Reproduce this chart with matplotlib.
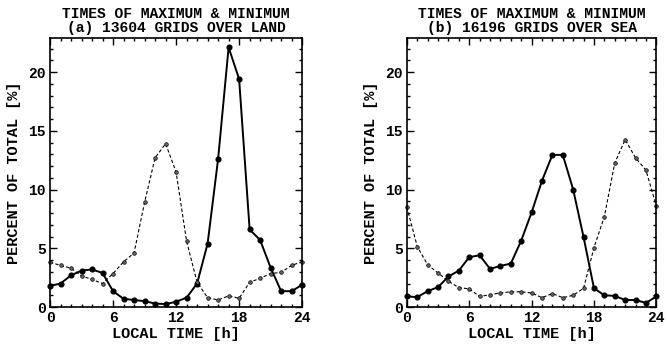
import numpy as np
import matplotlib
matplotlib.use("Agg")
import matplotlib.pyplot as plt
from matplotlib.ticker import MultipleLocator

HOURS = list(range(25))

# land: times of maximum (solid) and minimum (dashed), percent of total
LAND_MAX = [1.8, 2.0, 2.7, 3.1, 3.2, 2.9, 1.35, 0.7, 0.6, 0.5, 0.3, 0.25, 0.45,
            0.8, 2.0, 5.4, 12.6, 22.1, 19.4, 6.6, 5.7, 3.35, 1.35, 1.35, 1.9]
LAND_MIN = [3.8, 3.55, 3.3, 2.65, 2.35, 2.0, 2.85, 3.85, 4.6, 8.9, 12.7, 13.9, 11.5,
            5.6, 2.1, 0.8, 0.6, 0.95, 0.75, 2.1, 2.45, 2.85, 2.95, 3.55, 3.85]

# sea
SEA_MAX = [0.9, 0.85, 1.35, 1.7, 2.6, 3.1, 4.25, 4.4, 3.25, 3.5, 3.7, 5.65, 8.05,
           10.75, 12.95, 12.95, 10.0, 5.95, 1.6, 1.0, 0.95, 0.6, 0.6, 0.35, 0.9]
SEA_MIN = [8.5, 5.15, 3.6, 2.9, 2.2, 1.65, 1.55, 0.9, 1.05, 1.2, 1.3, 1.3, 1.2,
           0.8, 1.15, 0.8, 1.0, 1.6, 5.05, 7.7, 12.25, 14.25, 12.7, 11.65, 8.6]

TITLES = ["TIMES OF MAXIMUM & MINIMUM\n(a) 13604 GRIDS OVER LAND",
          "TIMES OF MAXIMUM & MINIMUM\n(b) 16196 GRIDS OVER SEA"]

FONT = dict(family="Liberation Mono", weight="bold")

fig = plt.figure(figsize=(6.67, 3.45), dpi=100)
axes = [fig.add_axes([0.075, 0.110, 0.378, 0.780]),
        fig.add_axes([0.610, 0.110, 0.374, 0.780])]

for ax, mx, mn, title in zip(axes, [LAND_MAX, SEA_MAX], [LAND_MIN, SEA_MIN], TITLES):
    ax.plot(HOURS, mx, "-", color="black", lw=1.4, marker="o", ms=3.4,
            clip_on=False)
    ax.plot(HOURS, mn, "--", color="black", lw=0.8, marker="o", ms=2.6,
            mfc="#666666", mec="black", mew=0.5, dashes=(3, 2), clip_on=False)
    ax.set_xlim(0, 24)
    ax.set_ylim(0, 22.9)
    ax.xaxis.set_major_locator(MultipleLocator(6))
    ax.xaxis.set_minor_locator(MultipleLocator(1))
    ax.yaxis.set_major_locator(MultipleLocator(5))
    ax.yaxis.set_minor_locator(MultipleLocator(1))
    ax.tick_params(which="both", direction="in", top=True, right=True, width=1.0)
    ax.tick_params(which="major", length=5, labelsize=10.5, pad=3)
    ax.tick_params(which="minor", length=2.5)
    for lab in ax.get_xticklabels() + ax.get_yticklabels():
        lab.set_fontfamily("Liberation Mono")
        lab.set_fontweight("bold")
    for sp in ax.spines.values():
        sp.set_linewidth(1.2)
    ax.set_xlabel("LOCAL TIME [h]", fontsize=11, labelpad=1, **FONT)
    ax.set_ylabel("PERCENT OF TOTAL [%]", fontsize=11, labelpad=5, **FONT)
    ax.set_title(title, fontsize=10.5, linespacing=1.0, pad=4, **FONT)

fig.savefig("out.png", dpi=100)
